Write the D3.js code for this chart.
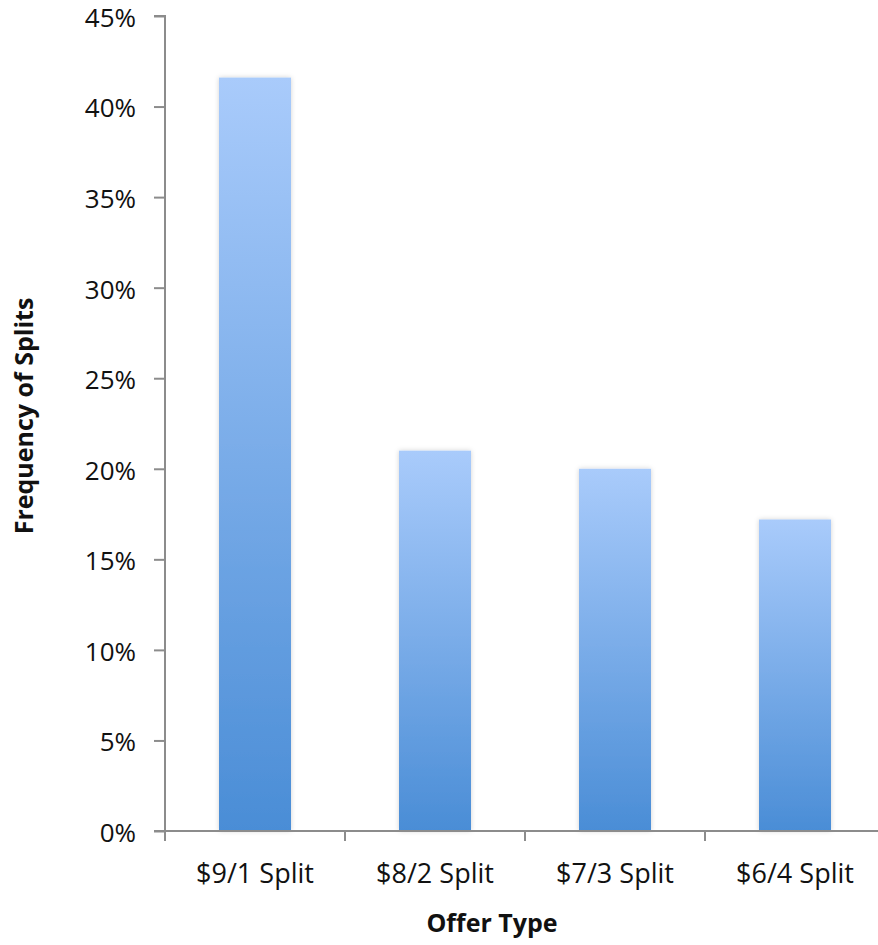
<!DOCTYPE html>
<html>
<head>
<meta charset="utf-8">
<script src="https://cdn.jsdelivr.net/npm/d3@7"></script>
<style>
  body { margin: 0; background: #fff; }
  text { font-family: 'Open Sans', 'Lato', sans-serif; fill: #111; }
</style>
</head>
<body>
<div id="chart"></div>
<script>
// data
const categories = ['$9/1 Split', '$8/2 Split', '$7/3 Split', '$6/4 Split'];
const frequencies = [41.6, 21.0, 20.0, 17.2];
const yTicks = [0, 5, 10, 15, 20, 25, 30, 35, 40, 45];

const W = 878, H = 945;
const margin = { top: 16, left: 165, bottom: 945 - 831 };
const plotH = H - margin.top - margin.bottom;

const svg = d3.select('#chart').append('svg')
  .attr('width', W).attr('height', H);

const defs = svg.append('defs');
const grad = defs.append('linearGradient')
  .attr('id', 'barGrad')
  .attr('x1', 0).attr('y1', 0).attr('x2', 0).attr('y2', 1);
grad.append('stop').attr('offset', '0%').attr('stop-color', '#a9cbfb');
grad.append('stop').attr('offset', '100%').attr('stop-color', '#4a8dd6');

const shadow = defs.append('filter').attr('id', 'shadow')
  .attr('x', '-20%').attr('y', '-5%').attr('width', '140%').attr('height', '110%');
shadow.append('feDropShadow')
  .attr('dx', 0).attr('dy', 0).attr('stdDeviation', 2.5)
  .attr('flood-color', '#000').attr('flood-opacity', 0.18);

const g = svg.append('g').attr('transform', `translate(${margin.left},${margin.top})`);

// scales
const x = d3.scaleBand()
  .domain(categories)
  .range([0, 4 * 180])
  .paddingInner(0.6)
  .paddingOuter(0.3);

const y = d3.scaleLinear().domain([0, 45]).range([plotH, 0]);

// bars
g.selectAll('rect.bar')
  .data(frequencies)
  .join('rect')
  .attr('class', 'bar')
  .attr('x', (d, i) => x(categories[i]))
  .attr('y', d => y(d))
  .attr('width', x.bandwidth())
  .attr('height', d => plotH - y(d))
  .attr('fill', 'url(#barGrad)')
  .attr('filter', 'url(#shadow)');

// Y axis
const yAxis = g.append('g')
  .call(d3.axisLeft(y).tickValues(yTicks).tickFormat(d => d + '%').tickSize(11).tickPadding(18));
yAxis.select('.domain').attr('stroke', '#8c8c8c').attr('stroke-width', 2)
  .attr('d', `M-11,0H0V${plotH}`);
yAxis.selectAll('.tick line').attr('stroke', '#8c8c8c').attr('stroke-width', 2);
yAxis.selectAll('.tick text').style('font-size', '26px').attr('fill', '#111').attr('dy', '0.4em');

// X axis
const xAxis = g.append('g').attr('transform', `translate(0,${plotH})`);
xAxis.append('line')
  .attr('x1', -11).attr('x2', 4 * 180).attr('y1', 0).attr('y2', 0)
  .attr('stroke', '#8c8c8c').attr('stroke-width', 2);
xAxis.selectAll('line.sep')
  .data(d3.range(categories.length + 1))
  .join('line')
  .attr('class', 'sep')
  .attr('x1', i => i * 180).attr('x2', i => i * 180)
  .attr('y1', 0).attr('y2', 10)
  .attr('stroke', '#8c8c8c').attr('stroke-width', 2);
xAxis.selectAll('text.cat')
  .data(categories)
  .join('text')
  .attr('class', 'cat')
  .attr('x', d => x(d) + x.bandwidth() / 2)
  .attr('y', 52)
  .attr('text-anchor', 'middle')
  .style('font-size', '27px')
  .text(d => d);

// axis titles
svg.append('text')
  .attr('x', 492).attr('y', 932)
  .attr('text-anchor', 'middle')
  .style('font-size', '25px').style('font-weight', 'bold')
  .text('Offer Type');

svg.append('text')
  .attr('transform', 'translate(33,416) rotate(-90)')
  .attr('text-anchor', 'middle')
  .style('font-size', '25px').style('font-weight', 'bold')
  .text('Frequency of Splits');
</script>
</body>
</html>
